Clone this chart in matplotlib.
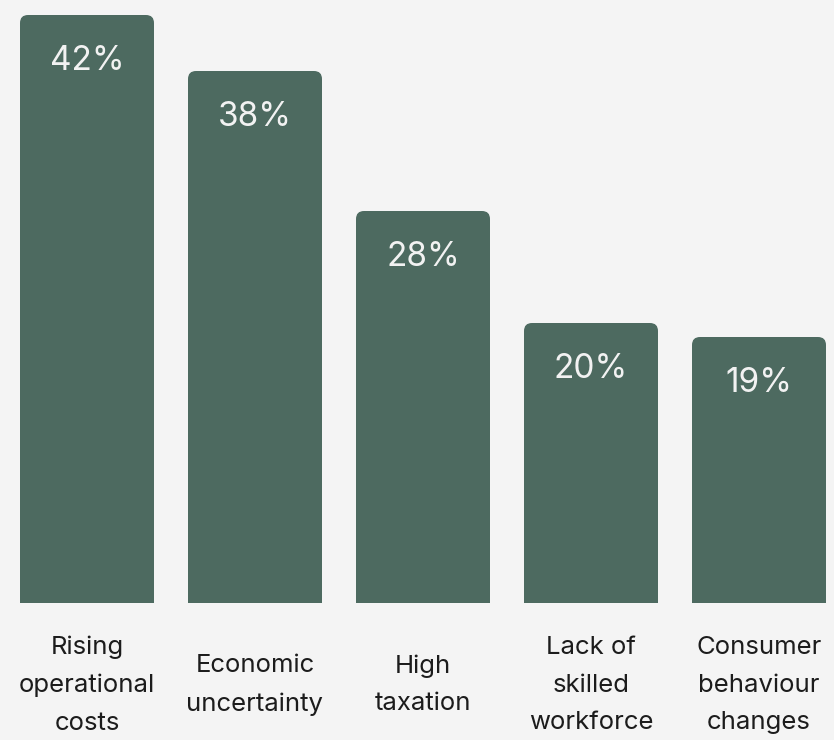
import matplotlib
matplotlib.use("Agg")
import matplotlib.pyplot as plt
from matplotlib.patches import FancyBboxPatch, Rectangle

# survey results: share of respondents naming each challenge
categories = ["Rising\noperational\ncosts", "Economic\nuncertainty", "High\ntaxation",
              "Lack of\nskilled\nworkforce", "Consumer\nbehaviour\nchanges"]
values = [42, 38, 28, 20, 19]
value_labels = ["42%", "38%", "28%", "20%", "19%"]

BAR_COLOR = "#4d6a60"
BG_COLOR = "#f4f4f4"
TEXT_COLOR = "#1c1c1c"

plt.rcParams['font.family'] = ['Inter', 'DejaVu Sans']

fig = plt.figure(figsize=(8.34, 7.4), dpi=100, facecolor=BG_COLOR)
ax = fig.add_axes([0, 0, 1, 1])
ax.set_facecolor(BG_COLOR)

# 168 px per category, 14 px per percentage point
ax.set_xlim(-87 / 168, (834 - 87) / 168)
ax.set_ylim(-137 / 14, 603 / 14)
ax.axis("off")

width = 134 / 168
radius = 8 / 168
aspect = 168 / 14

for i, (v, lab) in enumerate(zip(values, value_labels)):
    x0 = i - width / 2
    ax.add_patch(FancyBboxPatch((x0, 0), width, v,
                                boxstyle=f"round,pad=0,rounding_size={radius}",
                                mutation_aspect=aspect, linewidth=0,
                                facecolor=BAR_COLOR))
    # square off the bottom corners
    ax.add_patch(Rectangle((x0, 0), width, v / 2, linewidth=0, facecolor=BAR_COLOR))
    ax.text(i, v - 46 / 14, lab, ha="center", va="center",
            fontsize=24, color="#f2f2f2")

for i, cat in enumerate(categories):
    ax.text(i, -82 / 14, cat, ha="center", va="center", fontsize=18.5,
            color=TEXT_COLOR, linespacing=1.8)

fig.savefig("out.png", dpi=100, facecolor=BG_COLOR)
